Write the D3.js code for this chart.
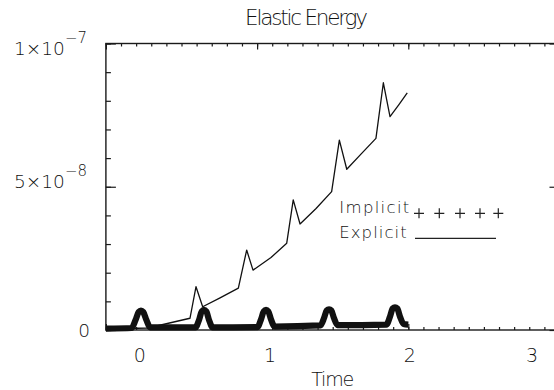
<!DOCTYPE html>
<html><head><meta charset="utf-8">
<script src="https://cdn.jsdelivr.net/npm/d3@7"></script>
<style>
body{margin:0;background:#fff}
text{font-family:"DejaVu Sans",sans-serif;font-weight:200;fill:#111}
</style>
</head><body>
<svg id="chart" width="554" height="390"></svg>
<script>
// ---- data (time, elastic energy) ----
const explicitTime = [0,0.278,0.556,0.596,0.640,0.755,0.876,0.931,0.973,1.092,1.196,1.239,1.284,1.390,1.493,1.544,1.593,1.687,1.786,1.835,1.879,1.938,1.993];
const explicitEnergy = [0.035e-8,0.07e-8,0.41e-8,1.51e-8,0.81e-8,1.12e-8,1.46e-8,2.79e-8,2.09e-8,2.53e-8,3.03e-8,4.54e-8,3.70e-8,4.24e-8,4.83e-8,6.63e-8,5.61e-8,6.14e-8,6.69e-8,8.63e-8,7.45e-8,7.87e-8,8.28e-8];
const implicitTime = [0,0.170,0.196,0.217,0.232,0.247,0.268,0.292,0.592,0.616,0.634,0.649,0.664,0.682,0.706,1.002,1.026,1.044,1.059,1.074,1.092,1.116,1.419,1.443,1.460,1.476,1.491,1.508,1.532,1.855,1.879,1.897,1.912,1.927,1.945,1.969,2.0];
const implicitEnergy = [0.05e-8,0.07e-8,0.35e-8,0.63e-8,0.68e-8,0.63e-8,0.35e-8,0.09e-8,0.09e-8,0.35e-8,0.65e-8,0.70e-8,0.65e-8,0.35e-8,0.09e-8,0.10e-8,0.37e-8,0.65e-8,0.70e-8,0.65e-8,0.37e-8,0.12e-8,0.16e-8,0.42e-8,0.68e-8,0.72e-8,0.68e-8,0.42e-8,0.17e-8,0.19e-8,0.47e-8,0.75e-8,0.79e-8,0.75e-8,0.47e-8,0.21e-8,0.19e-8];
const xTickValues = [0,1,2,3];
const xTickLabels = ["0","1","2","3"];
const yTickValues = [0,5e-8,1e-7];
const yTickMantissa = ["0","5×10","1×10"];
const yTickExponent = ["","−8","−7"];
const chartTitle = "Elastic Energy";
const xAxisTitle = "Time";
const seriesNames = ["Implicit","Explicit"];

// ---- layout ----
const box = {left:105.9, right:559.5, top:43.5, bottom:330};
const xLabelShift = [34,13,1.6,-27.5];
const yLabelShift = [6.5,1.5,11.5];
const ink = "#1a1a1a";

const svg = d3.select("#chart");
const x = d3.scaleLinear().domain([0,3]).range([box.left, box.right]);
const y = d3.scaleLinear().domain([0,1e-7]).range([box.bottom, box.top]);

const xMinor = d3.range(0,31).map(i=>i/10);
const yMinor = d3.range(0,11).map(i=>i*1e-8);

// frame
svg.append("rect").attr("x",box.left).attr("y",box.top)
  .attr("width",box.right-box.left).attr("height",box.bottom-box.top)
  .attr("fill","none").attr("stroke",ink).attr("stroke-width",1.4);

function addAxis(gen, tx, ty){
  const g = svg.append("g").attr("transform",`translate(${tx},${ty})`).call(gen);
  g.select(".domain").remove();
  g.selectAll("line").attr("stroke",ink).attr("stroke-width",1.2);
  g.selectAll("text").remove();
}
addAxis(d3.axisBottom(x).tickValues(xMinor).tickSize(-3).tickFormat(""),0,box.bottom);
addAxis(d3.axisBottom(x).tickValues(xTickValues).tickSize(-6).tickFormat(""),0,box.bottom);
addAxis(d3.axisTop(x).tickValues(xMinor).tickSize(-3).tickFormat(""),0,box.top);
addAxis(d3.axisTop(x).tickValues(xTickValues).tickSize(-6).tickFormat(""),0,box.top);
addAxis(d3.axisLeft(y).tickValues(yMinor).tickSize(-5).tickFormat(""),box.left,0);
addAxis(d3.axisLeft(y).tickValues(yTickValues).tickSize(-10).tickFormat(""),box.left,0);
addAxis(d3.axisRight(y).tickValues(yMinor).tickSize(-5).tickFormat(""),box.right,0);
addAxis(d3.axisRight(y).tickValues(yTickValues).tickSize(-10).tickFormat(""),box.right,0);

// x tick labels
svg.selectAll("text.xl").data(xTickValues).enter().append("text")
  .attr("class","xl").attr("x",(d,i)=>x(d)+xLabelShift[i]).attr("y",box.bottom+32)
  .attr("text-anchor","middle").attr("font-size",19).text((d,i)=>xTickLabels[i]);

// y tick labels
yTickValues.forEach((v,i)=>{
  const t = svg.append("text").attr("x",i===0?90:87).attr("y",y(v)+yLabelShift[i])
    .attr("text-anchor","end").attr("font-size",18.5);
  t.append("tspan").text(yTickMantissa[i]);
  if(yTickExponent[i]) t.append("tspan").attr("dy",-12).attr("font-size",15).text(yTickExponent[i]);
});

// titles
svg.append("text").attr("x",306.5).attr("y",25).attr("text-anchor","middle")
  .attr("font-size",21.5).attr("textLength",123).attr("lengthAdjust","spacing").text(chartTitle);
svg.append("text").attr("x",(box.left+box.right)/2).attr("y",386).attr("text-anchor","middle")
  .attr("font-size",19).attr("textLength",43).attr("lengthAdjust","spacing").text(xAxisTitle);

// series
const explicitPts = explicitTime.map((t,i)=>[t,explicitEnergy[i]]);
const implicitPts = implicitTime.map((t,i)=>[t,implicitEnergy[i]]);
const line = d3.line().x(d=>x(d[0])).y(d=>y(d[1]));
svg.append("path").attr("d",line(explicitPts)).attr("fill","none")
  .attr("stroke","#111").attr("stroke-width",1.3).attr("stroke-linejoin","round");
svg.append("path").attr("d",line.curve(d3.curveMonotoneX)(implicitPts)).attr("fill","none")
  .attr("stroke","#111").attr("stroke-width",6.2).attr("stroke-linejoin","round");

// legend
svg.append("text").attr("x",339.3).attr("y",213.3).attr("font-size",16.5)
  .attr("textLength",70).attr("lengthAdjust","spacing").text(seriesNames[0]);
svg.append("text").attr("x",339.3).attr("y",238.3).attr("font-size",16.5)
  .attr("textLength",67.4).attr("lengthAdjust","spacing").text(seriesNames[1]);
const plusX = [419,439.3,460,480,498.3];
plusX.forEach(px=>{
  svg.append("path").attr("d",`M${px-5},213.3H${px+5}M${px},208.3V218.3`)
    .attr("stroke","#222").attr("stroke-width",1.2);
});
svg.append("line").attr("x1",415).attr("x2",496).attr("y1",238.3).attr("y2",238.3)
  .attr("stroke","#222").attr("stroke-width",1.2);
</script>
</body></html>
